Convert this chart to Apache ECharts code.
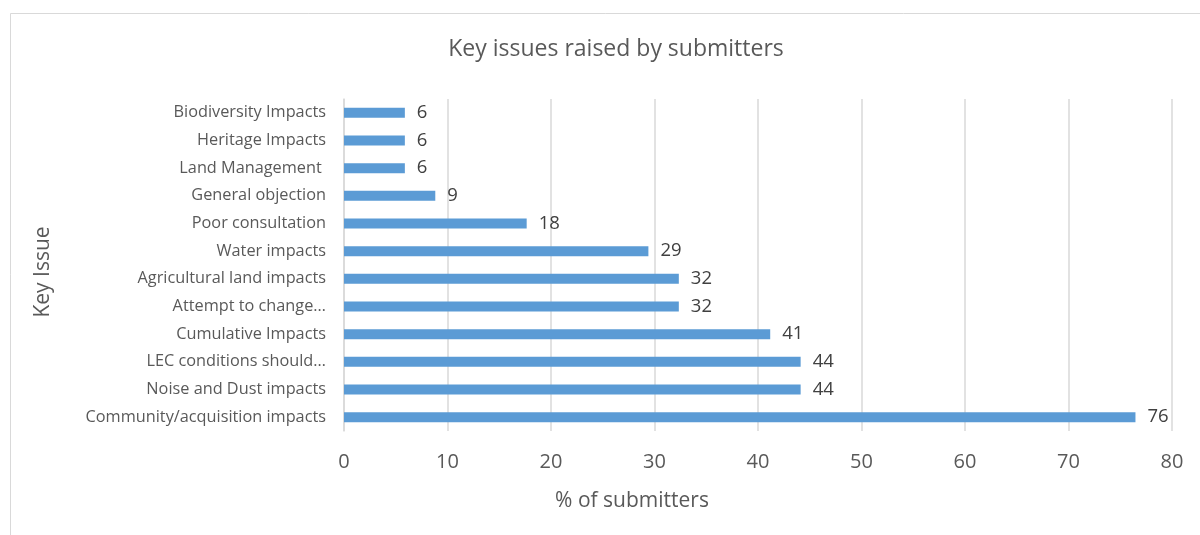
<!DOCTYPE html>
<html lang="en">
<head>
  <meta charset="UTF-8">
  <title>Key issues raised by submitters</title>
  <script src="https://cdn.jsdelivr.net/npm/echarts@6/dist/echarts.min.js"></script>
  <style>
    html, body {
      margin: 0;
      padding: 0;
      background: #fff;
    }

    #chart-main {
      width: 1200px;
      height: 535px;
    }
  </style>
</head>
<body>
<div id="chart-main"></div>

<script type="text/javascript">
  // top to bottom as in the picture
  const categories = [
    'Biodiversity Impacts',
    'Heritage Impacts',
    'Land Management ',
    'General objection',
    'Poor consultation',
    'Water impacts',
    'Agricultural land impacts',
    'Attempt to change…',
    'Cumulative Impacts',
    'LEC conditions should…',
    'Noise and Dust impacts',
    'Community/acquisition impacts'
  ]
  const percents = [5.88, 5.88, 5.88, 8.82, 17.65, 29.41, 32.35, 32.35, 41.18, 44.12, 44.12, 76.47]
  const xTicks = [0, 10, 20, 30, 40, 50, 60, 70, 80]

  const font = '"Open Sans", "Noto Sans", sans-serif'

  let echartItem = echarts.init(document.getElementById('chart-main'))

  let option = {
    backgroundColor: '#fff',
    animation: false,
    title: [{
      text: 'Key issues raised by submitters',
      left: 611,
      textAlign: 'center',
      top: 33,
      textStyle: {
        fontFamily: font,
        fontSize: 23,
        fontWeight: 'normal',
        color: '#595959'
      }
    }, {
      // x axis title sits left of the plot centre in the original
      text: '% of submitters',
      left: 627,
      textAlign: 'center',
      top: 486,
      textStyle: {
        fontFamily: font,
        fontSize: 21,
        fontWeight: 'normal',
        color: '#595959'
      }
    }],
    // outer chart border, runs off the right and bottom of the window
    graphic: [{
      type: 'rect',
      shape: {x: 10.5, y: 13.5, width: 1200, height: 540},
      style: {fill: 'none', stroke: '#d9d9d9', lineWidth: 1},
      silent: true
    }],
    grid: {
      left: 344,
      right: 28,
      top: 99,
      bottom: 104
    },
    xAxis: {
      type: 'value',
      min: xTicks[0],
      max: xTicks[xTicks.length - 1],
      interval: 10,
      axisLabel: {
        margin: 21,
        fontFamily: font,
        fontSize: 20,
        color: '#595959'
      },
      axisLine: {show: false},
      axisTick: {show: false},
      splitLine: {
        lineStyle: {
          color: '#d9d9d9',
          width: 1.5
        }
      }
    },
    yAxis: {
      type: 'category',
      inverse: true,
      data: categories,
      name: 'Key Issue',
      nameLocation: 'middle',
      nameGap: 290,
      nameRotate: 90,
      nameTextStyle: {
        fontFamily: font,
        fontSize: 21,
        color: '#595959',
        padding: [0, 14, 0, 0]
      },
      axisLabel: {
        margin: 18,
        fontFamily: font,
        fontSize: 16.3,
        color: '#595959'
      },
      axisLine: {
        lineStyle: {color: '#d9d9d9', width: 1.5}
      },
      axisTick: {show: false}
    },
    series: [{
      type: 'bar',
      data: percents,
      barWidth: 10,
      itemStyle: {
        color: '#5B9BD5'
      },
      label: {
        show: true,
        position: 'right',
        distance: 12,
        fontFamily: font,
        fontSize: 18.5,
        color: '#404040',
        formatter: function (p) {
          return Math.round(p.value)
        }
      }
    }]
  }

  echartItem.setOption(option)
</script>
</body>
</html>
